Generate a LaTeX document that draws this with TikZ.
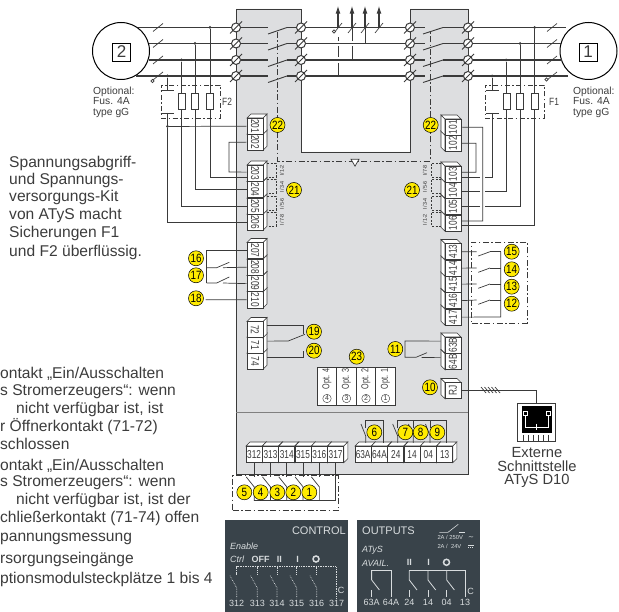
\documentclass[tikz,border=0pt]{standalone}
\usepackage{fontspec}
\setmainfont{Liberation Sans}
\newfontfamily\symbfont{DejaVu Sans}
\usetikzlibrary{positioning,shapes.geometric,arrows.meta}
\definecolor{panelgray}{HTML}{DDDEE0}
\definecolor{linegray}{HTML}{3A3A3A}
\definecolor{textgray}{HTML}{3C3C3C}
\definecolor{slate}{HTML}{39434A}
\definecolor{markyellow}{HTML}{FFEB00}
\definecolor{labelgray}{HTML}{D8DCDE}
% one terminal cell, text face towards the wire
\newcommand{\cellL}[2]{%
	\draw[block,fill=white] (263,#2) -- (267,#2-4) -- (267,#2+12.3) -- (263,#2+16.3) -- cycle;
	\draw[block,fill=white] (247,#2) -- (251,#2-4) -- (267,#2-4) -- (263,#2) -- cycle;
	\node[cell] (t#1) at (255,#2+8.15) {\rotatebox{-90}{#1}};
}
\newcommand{\cellR}[2]{%
	\draw[block,fill=white] (445,#2) -- (441,#2-4) -- (441,#2+12.3) -- (445,#2+16.3) -- cycle;
	\draw[block,fill=white] (461,#2) -- (457,#2-4) -- (441,#2-4) -- (445,#2) -- cycle;
	\node[cell] (t#1) at (453,#2+8.15) {\rotatebox{90}{#1}};
}
\newcommand{\cellB}[2]{%
	\draw[block,fill=white] (#2+16.3,446) -- (#2+20.3,442) -- (#2+20.3,458.7) -- (#2+16.3,462.7) -- cycle;
	\draw[block,fill=white] (#2,446) -- (#2+4,442) -- (#2+20.3,442) -- (#2+16.3,446) -- cycle;
	\node[cell] (t#1) at (#2+8.15,454.4) {#1};
}
\begin{document}
\begin{tikzpicture}[
		x=1pt,y=-1pt,
		phaseline/.style={draw=linegray,line width=1.2pt},
		wire/.style={draw=linegray,line width=0.7pt},
		mech/.style={draw=linegray,line width=0.7pt,dash pattern=on 6pt off 2.5pt on 1.5pt off 2.5pt},
		dotbox/.style={draw=linegray,line width=0.8pt,dash pattern=on 2pt off 1.5pt},
		block/.style={draw=linegray,line width=0.6pt},
		cell/.style={block,fill=white,minimum width=16pt,minimum height=16.3pt,inner sep=0pt,text=textgray,font=\fontsize{11.5}{11.5}\selectfont\addfontfeature{FakeStretch=0.72}},
		screw/.style={circle,draw=linegray,line width=1pt,fill=white,minimum size=9pt,inner sep=0pt},
		joint/.style={circle,fill=linegray,minimum size=3pt,inner sep=0pt},
		opendot/.style={circle,draw=linegray,line width=0.6pt,fill=white,minimum size=3.2pt,inner sep=0pt},
		callout/.style={circle,draw=black,line width=0.5pt,fill=markyellow,minimum size=15pt,inner sep=0pt,text=black,font=\fontsize{12}{12}\selectfont\addfontfeature{FakeStretch=0.82}},
		fuse/.style={draw=linegray,line width=0.7pt,fill=white,minimum width=7pt,minimum height=16pt,inner sep=0pt},
		sidetext/.style={text=textgray,anchor=west,inner sep=0pt,font=\fontsize{15.6}{15.6}\selectfont},
		smalltext/.style={text=textgray,anchor=north west,align=left,inner sep=0pt,font=\fontsize{10.3}{10.3}\selectfont},
		tinyrot/.style={text=linegray,rotate=90,inner sep=0pt,font=\fontsize{5.5}{5.5}\selectfont},
		paneltext/.style={text=labelgray,inner sep=0pt,font=\fontsize{9}{9}\selectfont},
		panelwire/.style={draw=labelgray,line width=0.8pt},
		panelfine/.style={draw=labelgray,line width=0.7pt,densely dotted},
		>={Latex[length=8pt,width=5pt]}
		]
		\useasboundingbox (0,0) rectangle (619,612);
		% Housing
		\draw[draw=linegray,line width=0.9pt,fill=panelgray] (236,9) -- (301,9) -- (301,152) -- (410,152) -- (410,9) -- (468,9) -- (468,474) -- (236,474) -- cycle;
		\draw[draw=gray,line width=0.9pt] (236,412) -- (468,412);
		% Mechanical link
		\draw[mech] (277.5,32) -- (277.5,161) -- (430,161) -- (430,32);
		\node[isosceles triangle,isosceles triangle apex angle=60,shape border rotate=-90,draw=linegray,fill=white,line width=0.7pt,minimum size=7pt,inner sep=0pt] (tri) at (355,161.5) {};
		% Phase lines and screws
		\node[circle,draw=black,line width=1pt,fill=white,minimum size=57pt,inner sep=0pt] (gen2) at (121,51) {};
		\node[circle,draw=black,line width=1pt,fill=white,minimum size=57pt,inner sep=0pt] (gen1) at (588.5,51) {};
		\foreach \n/\y/\l/\r in {1/27.5/138/566,2/43.5/149/562,3/60/149/562,4/76/136/568} {
			\coordinate (la\n) at (\l,\y);
			\coordinate (ra\n) at (\r,\y);
			\node[screw] (a\n) at (236,\y) {};
			\node[screw] (b\n) at (301,\y) {};
			\node[screw] (c\n) at (410,\y) {};
			\node[screw] (d\n) at (468,\y) {};
			\coordinate (sa\n) at (268,\y);
			\coordinate (sb\n) at (287,\y);
			\coordinate (sc\n) at (425,\y);
			\coordinate (sd\n) at (443,\y);
		}
		\foreach \n in {1,2,3,4} {
			\draw[phaseline] (la\n) -- (a\n.west);
			\draw[phaseline] (a\n.east) -- (sa\n);
			\draw[phaseline] (sb\n) -- (b\n.west);
			\draw[phaseline] (b\n.east) -- (c\n.west);
			\draw[phaseline] (c\n.east) -- (sc\n);
			\draw[phaseline] (sd\n) -- (d\n.west);
			\draw[phaseline] (d\n.east) -- (ra\n);
			\draw[wire,line width=0.9pt] ([shift={(0,6.5)}]sa\n) -- (sb\n);
			\draw[wire,line width=0.9pt] ([shift={(-2,6.5)}]sc\n) -- (sd\n);
			\foreach \s in {a,b,c,d} {
				\draw[draw=linegray,line width=1pt] ([shift={(-6,6)}]\s\n.center) -- ([shift={(6,-6)}]\s\n.center);
			}
		}
		% Outgoing arrows
		\node[inner sep=0pt] (up1) at (338,5) {};
		\node[inner sep=0pt] (up2) at (352,5) {};
		\node[inner sep=0pt] (up3) at (365,5) {};
		\node[inner sep=0pt] (up4) at (379,5) {};
		\foreach \n/\x/\y in {1/338/76,2/352/60,3/365/43.5,4/379/27.5} {
			\coordinate (dn\n) at (\x,\y);
		}
		\draw[phaseline,<-] (up1) -- (338,27.5);
		\draw[phaseline,<-] (up2) -- (352,27.5);
		\draw[phaseline,<-] (up3) -- (365,27.5);
		\draw[phaseline,<-] (up4) -- (dn4);
		\draw[wire] (338,37) -- (338,41);
		\draw[wire] (338,46) -- (338,57);
		\draw[wire,line width=1pt] (338,63) -- (dn1);
		\draw[wire] (352,27.5) -- (352,41);
		\draw[wire,line width=1pt] (352,46) -- (dn2);
		\draw[wire,line width=1pt] (365,27.5) -- (dn3);
		\foreach \x in {338,352,365,379} {
			\draw[wire] (\x-4,33) -- (\x+4,23);
		}
		\node[opendot] (nl) at (334,31.5) {};
		% Slash marks near generators
		\foreach \x/\y in {158/27.5,158/43.5,158/60,158/76,552/27.5,552/43.5,552/60,552/76} {
			\draw[wire] (\x-5,\y+4) -- (\x+5,\y-4);
		}
		\node[opendot] (nl2) at (152.5,81) {};
		\node[opendot] (nl1) at (546.5,79.5) {};
		% Generators
		\node[draw=black,line width=0.7pt,fill=white,minimum size=18pt,inner sep=0pt,font=\fontsize{17}{17}\selectfont,text=textgray] (box2) at (121.5,52) {2};
		\node[draw=black,line width=0.7pt,fill=white,minimum size=18pt,inner sep=0pt,font=\fontsize{17}{17}\selectfont,text=textgray] (box1) at (588,52) {1};
		% Terminal blocks
		\cellL{202}{134}
		\cellL{201}{118}
		\foreach \lab/\y in {206/214,205/198,204/181.5,203/165,210/291.7,209/275.5,208/259,207/242.5,74/353,71/337,72/321.5} {
			\cellL{\lab}{\y}
		}
		\foreach \lab/\y in {102/135,101/119,106/215,105/198.5,104/182,103/166,417/309,416/292.5,415/276,414/260,413/243.5,64B/353.5,63B/337,RJ/382.5} {
			\cellR{\lab}{\y}
		}
		\foreach \lab/\x in {312/246,313/262.3,314/278.6,315/294.9,316/311.2,317/327.5,63A/355,64A/371.3,24/387.6,14/403.9,04/420.2,13/436.5} {
			\cellB{\lab}{\x}
		}
		% Left side wiring and fuses
		\node[draw=linegray,line width=0.7pt,dash pattern=on 5pt off 2.5pt on 1.5pt off 2.5pt,minimum width=59pt,minimum height=33pt,inner sep=0pt] (boxF2) at (190.5,101.5) {};
		\node[joint] (j21) at (210,27.5) {};
		\node[joint] (j22) at (195,43.5) {};
		\node[joint] (j23) at (181.5,60) {};
		\node[joint] (j24) at (167.5,76) {};
		\node[joint] (j25) at (167.5,126.5) {};
		\draw[wire] (j21) |- ([yshift=-4.5pt]t203.west);
		\draw[wire] (j22) |- (t204.west);
		\draw[wire] (j23) |- (t205.west);
		\draw[wire] (j24) -- (167.5,90);
		\draw[wire] (160.5,90) -- (173.5,90);
		\draw[wire] (160.5,113) -- (173.5,113);
		\draw[wire] (167.5,113) -- (j25);
		\draw[wire] (j25) |- (t206.west);
		\draw[wire] (j25) -- (t201.west);
		\draw[wire] (t202.west) -- (229,142.2) -- (229,172) -- ([yshift=1pt]t203.west);
		\node[fuse] (f21) at (181.5,101) {};
		\node[fuse] (f22) at (195,101) {};
		\node[fuse] (f23) at (210,101) {};
		\node[inner sep=0pt,text=textgray,font=\fontsize{10.5}{10.5}\selectfont\addfontfeature{FakeStretch=0.8},anchor=west] (lf2) at (222,102) {F2};
		% Right side wiring and fuses
		\node[draw=linegray,line width=0.7pt,dash pattern=on 5pt off 2.5pt on 1.5pt off 2.5pt,minimum width=59pt,minimum height=33pt,inner sep=0pt] (boxF1) at (514.5,101.5) {};
		\node[joint] (j11) at (534.5,27.5) {};
		\node[joint] (j12) at (520,43.5) {};
		\node[joint] (j13) at (506,60) {};
		\node[joint] (j14) at (492,76) {};
		\draw[wire] (j14) -- (492,90);
		\draw[wire] (485.5,90) -- (498.5,90);
		\draw[wire] (485.5,113) -- (498.5,113);
		\draw[wire] (492,113) -- (492,177.7) -- (485,177.7);
		\draw[wire] (480,177.7) -- (461,177.7);
		\draw[wire] (j13) -- (506,191.7) -- (485,191.7);
		\draw[wire] (480,191.7) -- (461,191.7);
		\draw[wire] (j12) -- (520,206.7) -- (485,206.7);
		\draw[wire] (480,206.7) -- (461,206.7);
		\draw[wire] (j11) -- (534.5,225) -- (461,225);
		\draw[wire] (t101.east) -- (482.7,127.2) -- (482.7,221) -- (461,221);
		\draw[wire] (t102.east) -- (476,143.2) -- (476,172.3) -- (461,172.3);
		\node[fuse] (f11) at (506.5,101) {};
		\node[fuse] (f12) at (520,101) {};
		\node[fuse] (f13) at (534.5,101) {};
		\node[inner sep=0pt,text=textgray,font=\fontsize{10.5}{10.5}\selectfont\addfontfeature{FakeStretch=0.8},anchor=west] (lf1) at (549,102) {F1};
		% Measuring brackets
		\foreach \y/\txt/\tyt in {163.5/I\slash 1-2/I\slash 7-8,179.5/I\slash 3-4/I\slash 5-6,196.5/I\slash 5-6/I\slash 3-4,212.5/I\slash 7-8/I\slash 1-2} {
			\draw[dotbox] (267,\y) -- (276,\y) -- (276,\y+13.5) -- (267,\y+13.5);
			\draw[dotbox] (441,\y) -- (431,\y) -- (431,\y+13.5) -- (441,\y+13.5);
			\node[tinyrot] at (282,\y+7) {\txt};
			\node[tinyrot] at (425,\y+7) {\tyt};
		}
		% Contacts 16 17 18
		\coordinate (k16) at (206.7,267.7);
		\coordinate (k17) at (206.7,283);
		\draw[wire] (t207.west) -| (k17);
		\draw[wire] (k16) -- (216.7,267.7) -- (229.3,262.3);
		\draw[wire] (223,267.7) -- (t208.west);
		\draw[wire] (k17) -- (216.7,283) -- (229.3,277);
		\draw[wire] (223,283) -- (t209.west);
		\draw[wire] (205.7,299.8) -- (t210.west);
		% Contacts 19 20
		\draw[wire] ([shift={(4,-4)}]t72.east) -| (303.3,334);
		\draw[wire] ([shift={(4,-4)}]t71.east) -- (288.3,341) -- (305,334.3);
		\draw[wire] ([shift={(4,-4)}]t74.east) -| (303.3,351);
		% Contacts 12 to 15
		\foreach \lab/\y in {413/251.7,414/268,415/284,416/300} {
			\draw[wire] (t\lab.east) -- (476.7,\y);
			\draw[wire] (478.3,\y+4.3) -- (490,\y);
			\draw[wire] (490,\y) -- (500.7,\y);
		}
		\draw[wire] (t417.east) -- (500.7,317) -- (500.7,251.7);
		\node[draw=linegray,line width=0.7pt,dash pattern=on 6pt off 2.5pt on 1.5pt off 2.5pt,minimum width=55.5pt,minimum height=81pt,inner sep=0pt] (box12) at (499.5,282.5) {};
		% Contact 11
		\draw[wire] ([shift={(-4,-4)}]t63B.west) -- (405,341) -- (405,357.3) -- (416,357.3) -- (427,352.7);
		\draw[wire] (421.7,357.5) -- ([shift={(-4,-4)}]t64B.west);
		% Contacts 6 to 9
		\draw[wire] (365.7,443) -- (365.7,436) -- (361,424);
		\draw[wire] (365.7,428) -- (365.7,420) -- (383.3,420) -- (383.3,443);
		\draw[wire] (397.7,443) -- (397.7,436) -- (392.7,424);
		\draw[wire] (397.7,428) -- (397.7,420) -- (446.7,420) -- (446.7,443);
		\draw[wire] (413.3,443) -- (413.3,436) -- (408.5,424);
		\draw[wire] (413.3,428) -- (413.3,420);
		\draw[wire] (430,443) -- (430,436) -- (425.5,424);
		\draw[wire] (430,428) -- (430,420);
		% Contacts 1 to 5
		\foreach \lab in {312,313,314,315,316} {
			\draw[wire] (t\lab.south) -- ([yshift=-14pt]t\lab.south);
			\draw[wire] ([shift={(-8,14)}]t\lab.south) -- ([shift={(0,24)}]t\lab.south) -- ([yshift=-38pt]t\lab.south);
		}
		\coordinate (kb) at (254.2,500.7);
		\draw[wire] (kb) -| (t317.south);
		\node[draw=linegray,line width=0.7pt,dash pattern=on 6pt off 2.5pt on 1.5pt off 2.5pt,minimum width=106pt,minimum height=35pt,inner sep=0pt] (box5) at (285.5,493) {};
		% Option slots
		\foreach \n/\x in {4/327,3/346.5,2/366,1/385.5} {
			\node[draw=linegray,line width=0.8pt,fill=white,minimum width=19.5pt,minimum height=38pt,inner sep=0pt] (opt\n) at (\x,386) {};
			\node[text=textgray,rotate=90,inner sep=0pt,font=\fontsize{10}{10}\selectfont\addfontfeature{FakeStretch=0.72}] (optl\n) at (\x,379) {Opt. \n};
			\node[circle,draw=linegray,line width=0.4pt,minimum size=8.5pt,inner sep=0pt,text=textgray,font=\fontsize{7}{7}\selectfont] (optc\n) at (\x,398.5) {\n};
		}
		% Numbered marks
		\foreach \txt/\x/\y in {22/277.5/125,21/294/190,22/430.7/125,21/412/190,16/196/258.3,17/196/275.3,18/196/298.3,19/314/331.7,20/314/350.7,15/511.7/251.7,14/511.7/269.3,13/511.7/286.7,12/511.7/303.7,11/395.3/349,23/356.7/356.7,10/430/387.3,6/374.3/432.3,7/405.3/432.3,8/420.7/432.3,9/437.3/432.3,5/244.3/492.3,4/260.7/492.3,3/277.3/492.3,2/293.3/492.3,1/309.3/492.3} {
			\node[callout] at (\x,\y) {\txt};
		}
		% Serial link and display
		\node[draw=linegray,line width=1pt,fill=white,minimum width=38pt,minimum height=38pt,inner sep=0pt] (disp) at (536.5,422.5) {};
		\draw[wire] (tRJ.east) -| (disp.north);
		\foreach \x in {481,484.5,488,491.5,495} {
			\draw[wire] (\x,387) -- (\x+5,393);
		}
		\node[fill=black,minimum width=30pt,minimum height=27pt,inner sep=0pt] (screen) at (536.5,419.5) {};
		\node[draw=white,line width=0.4pt,minimum size=3.5pt,inner sep=0pt] (p1) at (525,413) {};
		\node[draw=white,line width=0.4pt,minimum size=3.5pt,inner sep=0pt] (p2) at (548,413) {};
		\draw[draw=white,line width=0.5pt] (p1) -- (525,427) -- (548,427) -- (p2);
		\draw[draw=white,line width=0.5pt] (536.5,424) -- (536.5,430);
		\foreach \x in {523,528,533,538,543,548} {
			\draw[draw=linegray,line width=0.7pt] (\x,435) -- (\x,441);
		}
		\node[text=textgray,align=center,inner sep=0pt,font=\fontsize{14.7}{13.5}\selectfont] (ldisp) at (537,467.5) {Externe\\Schnittstelle\\ATyS D10};
		% Optional notes
		\node[smalltext] (opt2note) at (93,87) {Optional:\\Fus. 4A\\type gG};
		\node[smalltext] (opt1note) at (573,87) {Optional:\\Fus. 4A\\type gG};
		% Side texts
		\foreach \y/\txt in {163/Spannungsabgriff-,180.5/und Spannungs-,197.5/versorgungs-Kit,215/von ATyS macht,233/Sicherungen F1,252/und F2 überflüssig.} {
			\node[sidetext] at (9,\y) {\txt};
		}
		\foreach \x/\y/\txt in {0/374.3/{ontakt „Ein/Ausschalten},0/391.7/{s Stromerzeugers“: wenn},16/409.3/{nicht verfügbar ist, ist},0/427/{r Öffnerkontakt (71-72)},0/444.3/{schlossen},0/465.7/{ontakt „Ein/Ausschalten},0/482.7/{s Stromerzeugers“: wenn},16/500.7/{nicht verfügbar ist, ist der},0/518/{chließerkontakt (71-74) offen},0/539/{pannungsmessung},0/559.7/{rsorgungseingänge},0/579/{ptionsmodulsteckplätze 1 bis 4}} {
			\node[sidetext] at (\x,\y) {\txt};
		}
		% Control panel
		\node[fill=slate,minimum width=123.3pt,minimum height=92pt,inner sep=0pt] (pctrl) at (286.6,566) {};
		\node[paneltext,anchor=east,font=\fontsize{11}{11}\selectfont] (lctrl) at (346,530.5) {CONTROL};
		\node[paneltext,anchor=west,font=\fontsize{9}{9}\selectfont\itshape] (lena) at (230,546) {Enable};
		\node[paneltext,anchor=west,font=\fontsize{9}{9}\selectfont\itshape] (lctl) at (230,559) {Ctrl};
		\node[paneltext,font=\fontsize{9}{9}\selectfont\bfseries] (loff) at (260.7,559) {OFF};
		\node[paneltext,font=\fontsize{9}{9}\selectfont\bfseries] (lii) at (279.3,559) {II};
		\node[paneltext,font=\fontsize{9}{9}\selectfont\bfseries] (li) at (297.7,559) {I};
		\node[circle,draw=labelgray,line width=1.5pt,minimum size=6pt,inner sep=0pt] (lo) at (316,559) {};
		\draw[panelfine] (236.7,574) -- (236.7,566.7) -- (336,566.7) -- (336,598);
		\foreach \lab/\x in {312/236.7,313/257.3,314/277,315/296.7,316/316.7} {
			\draw[panelfine] (\x,566.7) -- (\x,574);
			\draw[panelfine] (\x-6.7,575.7) -- (\x,588) -- (\x,598);
			\node[paneltext] (c\lab) at (\x,603) {\lab};
		}
		\node[paneltext] (c317) at (336.7,603) {317};
		\node[paneltext] (cC) at (341,590) {C};
		% Outputs panel
		\node[fill=slate,minimum width=122.7pt,minimum height=92pt,inner sep=0pt] (pout) at (418.6,566) {};
		\node[paneltext,anchor=west,font=\fontsize{11}{11}\selectfont] (lout) at (362,530.5) {OUTPUTS};
		\draw[panelwire,line width=0.6pt] (439.3,532.3) -- (448,532.3) -- (458.3,524.3);
		\draw[panelwire,line width=0.6pt] (459,532.3) -- (465,532.3);
		\node[paneltext,anchor=west,font=\fontsize{5.8}{5.8}\selectfont] (l250) at (437.3,537.7) {2A / 250V};
		\node[paneltext,anchor=west,font=\fontsize{5.8}{5.8}\selectfont] (l24) at (437.3,546.7) {2A / \ 24V};
		\node[paneltext,font=\fontsize{7}{7}\selectfont\symbfont] (lac) at (471,538.5) {∼};
		\draw[panelwire,line width=0.5pt] (468,545.5) -- (474,545.5);
		\draw[panelwire,line width=0.5pt,dash pattern=on 1pt off 1pt] (468,547.5) -- (474,547.5);
		\node[paneltext,anchor=west,font=\fontsize{9}{9}\selectfont\itshape] (latys) at (362,550) {ATyS};
		\node[paneltext,anchor=west,font=\fontsize{9}{9}\selectfont\itshape] (lavail) at (362,563.3) {AVAIL.};
		\node[paneltext,font=\fontsize{9}{9}\selectfont\bfseries] (oii) at (409.3,562.3) {II};
		\node[paneltext,font=\fontsize{9}{9}\selectfont\bfseries] (oi) at (428.7,562.3) {I};
		\node[circle,draw=labelgray,line width=1.5pt,minimum size=6pt,inner sep=0pt] (oo) at (446.5,562.3) {};
		\draw[panelwire] (371.7,580) -- (371.7,570.7) -- (391,570.7) -- (391,596.7);
		\draw[panelwire] (409.3,570.7) -- (465,570.7) -- (465,596.7);
		\foreach \x in {371.7,409.3,428,446.7} {
			\draw[panelwire] (\x,570.7) -- (\x,580) -- (\x+7.7,590);
			\draw[panelwire] (\x,590) -- (\x,596.7);
		}
		\foreach \lab/\x in {63A/371.7,64A/391,24/409.3,14/428,04/446.7,13/465} {
			\node[paneltext] (o\lab) at (\x,602.7) {\lab};
		}
		\node[paneltext] (oC) at (470.7,591.7) {C};
	\end{tikzpicture}
\end{document}
